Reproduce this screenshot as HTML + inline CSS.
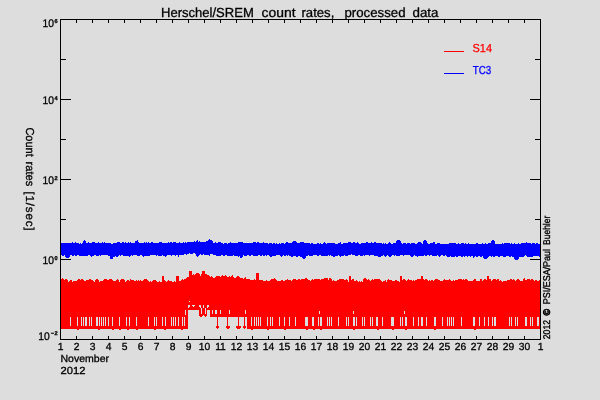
<!DOCTYPE html>
<html><head><meta charset="utf-8"><title>Herschel/SREM count rates</title>
<style>
html,body{margin:0;padding:0;background:#dddddd;}
body{width:600px;height:400px;overflow:hidden;font-family:"Liberation Sans",sans-serif;}
svg{display:block;font-family:"Liberation Sans",sans-serif;}
</style></head><body>
<svg width="600" height="400" viewBox="0 0 600 400">
<rect width="600" height="400" fill="#dddddd"/>
<g shape-rendering="crispEdges">
<path fill="#000" d="M60 19h481v1h-481zM60 339h481v1h-481zM60 19h1v321h-1zM540 19h1v321h-1zM76 19h1v4h-1zM76 336h1v4h-1zM92 19h1v4h-1zM92 336h1v4h-1zM108 19h1v4h-1zM108 336h1v4h-1zM124 19h1v4h-1zM124 336h1v4h-1zM140 19h1v4h-1zM140 336h1v4h-1zM156 19h1v4h-1zM156 336h1v4h-1zM172 19h1v4h-1zM172 336h1v4h-1zM188 19h1v4h-1zM188 336h1v4h-1zM204 19h1v4h-1zM204 336h1v4h-1zM220 19h1v4h-1zM220 336h1v4h-1zM236 19h1v4h-1zM236 336h1v4h-1zM252 19h1v4h-1zM252 336h1v4h-1zM268 19h1v4h-1zM268 336h1v4h-1zM284 19h1v4h-1zM284 336h1v4h-1zM300 19h1v4h-1zM300 336h1v4h-1zM316 19h1v4h-1zM316 336h1v4h-1zM332 19h1v4h-1zM332 336h1v4h-1zM348 19h1v4h-1zM348 336h1v4h-1zM364 19h1v4h-1zM364 336h1v4h-1zM380 19h1v4h-1zM380 336h1v4h-1zM396 19h1v4h-1zM396 336h1v4h-1zM412 19h1v4h-1zM412 336h1v4h-1zM428 19h1v4h-1zM428 336h1v4h-1zM444 19h1v4h-1zM444 336h1v4h-1zM460 19h1v4h-1zM460 336h1v4h-1zM476 19h1v4h-1zM476 336h1v4h-1zM492 19h1v4h-1zM492 336h1v4h-1zM508 19h1v4h-1zM508 336h1v4h-1zM524 19h1v4h-1zM524 336h1v4h-1zM60 59h6v1h-6zM535 59h6v1h-6zM60 99h11v1h-11zM530 99h11v1h-11zM60 139h6v1h-6zM535 139h6v1h-6zM60 179h11v1h-11zM530 179h11v1h-11zM60 219h6v1h-6zM535 219h6v1h-6zM60 259h11v1h-11zM530 259h11v1h-11zM60 299h6v1h-6zM535 299h6v1h-6z"/>
<path fill="#0000ff" d="M61 243h1v12h-1zM62 243h2v13h-2zM64 243h1v12h-1zM65 243h1v14h-1zM66 243h3v15h-3zM69 243h1v14h-1zM70 243h2v12h-2zM72 242h1v14h-1zM73 243h1v13h-1zM74 243h1v12h-1zM75 242h1v14h-1zM76 243h1v13h-1zM77 243h2v12h-2zM79 244h1v12h-1zM80 243h1v13h-1zM81 244h1v12h-1zM82 243h1v13h-1zM83 241h1v15h-1zM84 240h1v16h-1zM85 241h1v15h-1zM86 243h2v13h-2zM88 242h1v13h-1zM89 243h1v12h-1zM90 243h1v13h-1zM91 243h1v14h-1zM92 242h2v14h-2zM94 242h1v13h-1zM95 243h1v12h-1zM96 243h2v13h-2zM98 242h1v14h-1zM99 243h1v12h-1zM100 243h1v13h-1zM101 243h1v12h-1zM102 242h1v13h-1zM103 243h1v12h-1zM104 242h1v13h-1zM105 243h3v12h-3zM108 243h2v13h-2zM110 243h1v16h-1zM111 244h2v15h-2zM113 243h2v14h-2zM115 243h1v13h-1zM116 243h1v14h-1zM117 242h1v15h-1zM118 242h1v14h-1zM119 242h1v13h-1zM120 243h1v13h-1zM121 243h1v12h-1zM122 242h1v13h-1zM123 242h1v14h-1zM124 243h1v13h-1zM125 242h1v14h-1zM126 243h2v13h-2zM128 242h1v14h-1zM129 243h1v14h-1zM130 242h1v14h-1zM131 243h1v12h-1zM132 243h1v13h-1zM133 243h2v12h-2zM135 241h2v14h-2zM137 240h1v16h-1zM138 242h1v14h-1zM139 243h1v13h-1zM140 243h2v12h-2zM142 243h1v13h-1zM143 243h1v14h-1zM144 242h1v14h-1zM145 243h1v13h-1zM146 242h1v14h-1zM147 243h1v13h-1zM148 242h1v14h-1zM149 243h1v13h-1zM150 243h1v12h-1zM151 242h2v13h-2zM153 243h3v12h-3zM156 243h1v13h-1zM157 243h1v12h-1zM158 243h1v13h-1zM159 242h3v14h-3zM162 243h1v12h-1zM163 243h2v13h-2zM165 243h1v14h-1zM166 243h1v13h-1zM167 243h1v12h-1zM168 242h1v13h-1zM169 243h1v12h-1zM170 242h1v13h-1zM171 242h1v14h-1zM172 243h1v12h-1zM173 242h2v13h-2zM175 242h1v14h-1zM176 243h2v12h-2zM178 243h1v14h-1zM179 242h1v13h-1zM180 243h3v12h-3zM183 242h1v13h-1zM184 243h1v11h-1zM185 242h1v12h-1zM186 243h1v12h-1zM187 242h2v12h-2zM189 242h1v11h-1zM190 242h3v12h-3zM193 242h1v11h-1zM194 241h1v12h-1zM195 242h1v12h-1zM196 241h1v15h-1zM197 240h1v17h-1zM198 242h1v14h-1zM199 241h1v14h-1zM200 242h1v12h-1zM201 242h2v13h-2zM203 242h1v12h-1zM204 242h2v13h-2zM206 241h2v14h-2zM208 240h1v15h-1zM209 239h1v17h-1zM210 240h2v14h-2zM212 241h1v13h-1zM213 243h2v12h-2zM215 242h1v13h-1zM216 243h2v13h-2zM218 242h3v14h-3zM221 243h2v12h-2zM223 244h1v12h-1zM224 243h1v13h-1zM225 243h2v12h-2zM227 244h1v12h-1zM228 243h2v13h-2zM230 242h1v14h-1zM231 243h2v13h-2zM233 243h1v12h-1zM234 243h4v13h-4zM238 242h1v15h-1zM239 242h1v14h-1zM240 242h2v16h-2zM242 242h1v15h-1zM243 243h1v12h-1zM244 243h3v13h-3zM247 243h2v12h-2zM249 243h2v13h-2zM251 243h2v12h-2zM253 242h3v14h-3zM256 243h1v13h-1zM257 242h1v14h-1zM258 242h1v13h-1zM259 243h1v12h-1zM260 243h2v13h-2zM262 243h1v12h-1zM263 242h1v14h-1zM264 243h1v13h-1zM265 243h1v12h-1zM266 243h1v13h-1zM267 243h1v12h-1zM268 244h1v11h-1zM269 243h1v13h-1zM270 243h2v14h-2zM272 244h1v12h-1zM273 243h2v13h-2zM275 244h1v12h-1zM276 243h1v12h-1zM277 244h2v11h-2zM279 243h1v12h-1zM280 244h1v12h-1zM281 243h1v14h-1zM282 243h1v13h-1zM283 243h1v12h-1zM284 244h1v12h-1zM285 243h1v13h-1zM286 242h1v13h-1zM287 242h1v14h-1zM288 243h1v12h-1zM289 243h2v13h-2zM291 243h1v14h-1zM292 242h1v15h-1zM293 241h3v15h-3zM296 242h1v15h-1zM297 243h1v14h-1zM298 243h2v13h-2zM300 242h2v15h-2zM302 242h1v16h-1zM303 242h1v17h-1zM304 243h1v16h-1zM305 243h1v15h-1zM306 243h2v13h-2zM308 243h1v12h-1zM309 243h1v13h-1zM310 244h1v12h-1zM311 243h2v13h-2zM313 244h4v11h-4zM317 243h2v13h-2zM319 244h1v11h-1zM320 243h1v12h-1zM321 244h2v12h-2zM323 243h1v13h-1zM324 242h1v14h-1zM325 243h1v13h-1zM326 244h1v12h-1zM327 243h1v13h-1zM328 243h1v12h-1zM329 243h1v13h-1zM330 243h1v12h-1zM331 243h2v13h-2zM333 243h2v14h-2zM335 244h3v12h-3zM338 243h1v12h-1zM339 243h1v13h-1zM340 242h1v15h-1zM341 244h2v12h-2zM343 243h1v13h-1zM344 243h1v12h-1zM345 243h3v13h-3zM348 242h3v13h-3zM351 243h1v11h-1zM352 243h1v12h-1zM353 242h2v13h-2zM355 243h2v13h-2zM357 242h1v14h-1zM358 243h1v12h-1zM359 244h1v11h-1zM360 244h1v12h-1zM361 243h2v13h-2zM363 243h1v12h-1zM364 243h1v13h-1zM365 243h1v12h-1zM366 242h2v13h-2zM368 243h1v12h-1zM369 243h1v13h-1zM370 243h1v12h-1zM371 242h1v13h-1zM372 243h2v12h-2zM374 242h2v14h-2zM376 243h2v13h-2zM378 243h3v14h-3zM381 243h1v13h-1zM382 244h1v12h-1zM383 243h1v12h-1zM384 244h1v12h-1zM385 243h1v14h-1zM386 244h1v12h-1zM387 244h1v11h-1zM388 243h1v13h-1zM389 242h1v15h-1zM390 243h1v14h-1zM391 244h1v12h-1zM392 244h1v11h-1zM393 243h1v12h-1zM394 243h1v13h-1zM395 243h1v12h-1zM396 241h1v15h-1zM397 240h3v16h-3zM400 241h1v14h-1zM401 243h1v12h-1zM402 244h1v11h-1zM403 243h1v13h-1zM404 243h2v12h-2zM406 244h1v11h-1zM407 243h3v12h-3zM410 244h1v12h-1zM411 243h2v14h-2zM413 243h1v13h-1zM414 243h1v12h-1zM415 244h2v12h-2zM417 243h1v14h-1zM418 242h3v14h-3zM421 243h1v13h-1zM422 244h1v12h-1zM423 241h1v15h-1zM424 240h1v15h-1zM425 240h1v16h-1zM426 241h1v15h-1zM427 243h1v12h-1zM428 244h1v11h-1zM429 244h1v12h-1zM430 243h2v12h-2zM432 243h1v13h-1zM433 242h2v14h-2zM435 244h2v12h-2zM437 243h1v12h-1zM438 243h1v13h-1zM439 243h1v14h-1zM440 244h1v12h-1zM441 244h2v11h-2zM443 244h2v12h-2zM445 244h1v11h-1zM446 244h1v12h-1zM447 244h2v13h-2zM449 243h1v14h-1zM450 243h1v13h-1zM451 243h4v14h-4zM455 243h1v13h-1zM456 244h2v13h-2zM458 243h1v13h-1zM459 244h2v12h-2zM461 243h2v14h-2zM463 243h1v13h-1zM464 244h1v13h-1zM465 243h1v13h-1zM466 244h1v12h-1zM467 244h1v13h-1zM468 243h1v13h-1zM469 244h1v12h-1zM470 244h1v13h-1zM471 244h2v12h-2zM473 244h1v14h-1zM474 244h1v13h-1zM475 244h1v12h-1zM476 243h2v14h-2zM478 244h2v12h-2zM480 244h2v13h-2zM482 243h1v13h-1zM483 244h1v14h-1zM484 244h1v15h-1zM485 243h1v16h-1zM486 244h1v15h-1zM487 244h1v14h-1zM488 243h1v14h-1zM489 243h2v13h-2zM491 241h1v16h-1zM492 240h1v16h-1zM493 240h1v17h-1zM494 241h1v16h-1zM495 244h3v12h-3zM498 244h2v13h-2zM500 244h2v12h-2zM502 243h1v13h-1zM503 244h1v13h-1zM504 243h2v14h-2zM506 243h3v13h-3zM509 243h1v14h-1zM510 244h1v13h-1zM511 243h1v13h-1zM512 244h2v13h-2zM514 243h1v16h-1zM515 244h3v16h-3zM518 243h1v16h-1zM519 244h2v13h-2zM521 243h3v14h-3zM524 243h1v13h-1zM525 243h1v12h-1zM526 242h1v14h-1zM527 243h4v14h-4zM531 244h1v13h-1zM532 243h1v14h-1zM533 243h2v13h-2zM535 244h1v12h-1zM536 243h2v13h-2zM538 244h1v12h-1zM539 244h1v13h-1z"/>
<path fill="#ff0000" d="M61 279h1v50h-1zM62 278h1v51h-1zM63 279h1v50h-1zM64 280h1v49h-1zM65 279h2v50h-2zM67 280h1v49h-1zM68 282h1v47h-1zM69 281h1v48h-1zM70 280h2v49h-2zM72 282h1v47h-1zM73 281h4v48h-4zM77 280h1v49h-1zM78 279h2v50h-2zM80 280h1v49h-1zM81 279h2v50h-2zM83 280h1v49h-1zM84 281h2v48h-2zM86 280h3v49h-3zM89 279h2v50h-2zM91 280h2v49h-2zM93 281h1v48h-1zM94 282h1v47h-1zM95 280h1v49h-1zM96 279h2v50h-2zM98 280h1v49h-1zM99 282h1v47h-1zM100 281h3v48h-3zM103 280h1v49h-1zM104 279h3v50h-3zM107 280h2v49h-2zM109 279h3v50h-3zM112 280h1v49h-1zM113 281h3v48h-3zM116 280h1v49h-1zM117 279h1v50h-1zM118 280h1v49h-1zM119 282h1v47h-1zM120 280h1v49h-1zM121 279h3v50h-3zM124 280h1v49h-1zM125 282h1v47h-1zM126 281h1v48h-1zM127 280h2v49h-2zM129 281h1v48h-1zM130 279h1v50h-1zM131 280h3v49h-3zM134 281h2v48h-2zM136 280h1v49h-1zM137 281h1v48h-1zM138 280h1v49h-1zM139 281h1v48h-1zM140 280h1v49h-1zM141 281h2v48h-2zM143 280h1v49h-1zM144 279h3v50h-3zM147 280h1v49h-1zM148 281h1v48h-1zM149 282h1v47h-1zM150 281h1v48h-1zM151 282h1v47h-1zM152 281h1v48h-1zM153 280h3v49h-3zM156 281h1v48h-1zM157 282h2v47h-2zM159 281h1v48h-1zM160 282h2v47h-2zM162 276h2v53h-2zM164 280h1v49h-1zM165 281h1v48h-1zM166 282h1v47h-1zM167 281h1v48h-1zM168 280h1v49h-1zM169 281h3v48h-3zM172 282h2v47h-2zM174 281h1v48h-1zM175 282h1v47h-1zM176 276h3v53h-3zM179 281h2v48h-2zM181 280h1v49h-1zM182 279h1v50h-1zM183 280h1v49h-1zM184 279h2v50h-2zM186 278h1v51h-1zM187 277h1v52h-1zM188 277h1v33h-1zM189 271h3v39h-3zM192 275h1v35h-1zM193 274h1v36h-1zM194 275h1v35h-1zM195 274h1v36h-1zM196 273h3v37h-3zM199 274h1v41h-1zM200 276h1v39h-1zM201 274h1v41h-1zM202 271h3v44h-3zM205 274h2v41h-2zM207 275h2v35h-2zM209 276h1v34h-1zM210 277h1v40h-1zM211 276h1v41h-1zM212 277h1v40h-1zM213 278h2v39h-2zM215 277h1v40h-1zM216 276h1v41h-1zM217 276h1v51h-1zM218 276h2v41h-2zM220 277h1v40h-1zM221 276h1v41h-1zM222 275h1v42h-1zM223 276h2v41h-2zM225 275h1v42h-1zM226 276h1v41h-1zM227 277h1v50h-1zM228 277h1v40h-1zM229 276h1v41h-1zM230 277h1v40h-1zM231 276h1v41h-1zM232 275h1v42h-1zM233 277h1v40h-1zM234 278h2v39h-2zM236 277h1v40h-1zM237 276h1v41h-1zM238 276h1v51h-1zM239 277h1v40h-1zM240 278h3v39h-3zM243 279h1v38h-1zM244 278h1v49h-1zM245 277h1v40h-1zM246 279h1v38h-1zM247 279h3v50h-3zM250 280h4v49h-4zM254 279h1v50h-1zM255 280h1v49h-1zM256 273h3v56h-3zM259 280h4v49h-4zM263 281h3v48h-3zM266 280h1v49h-1zM267 281h3v48h-3zM270 280h1v49h-1zM271 279h3v50h-3zM274 278h1v51h-1zM275 279h1v50h-1zM276 280h1v49h-1zM277 281h4v48h-4zM281 280h2v49h-2zM283 281h2v48h-2zM285 280h2v49h-2zM287 279h1v50h-1zM288 280h3v49h-3zM291 281h1v48h-1zM292 280h1v49h-1zM293 279h3v50h-3zM296 280h2v49h-2zM298 279h2v50h-2zM300 280h1v49h-1zM301 279h4v50h-4zM305 278h2v51h-2zM307 279h1v50h-1zM308 280h2v49h-2zM310 281h1v48h-1zM311 280h1v49h-1zM312 279h1v50h-1zM313 280h1v49h-1zM314 279h6v50h-6zM320 280h1v49h-1zM321 279h3v50h-3zM324 278h4v51h-4zM328 280h1v49h-1zM329 278h2v51h-2zM331 279h1v50h-1zM332 281h1v48h-1zM333 280h1v49h-1zM334 281h3v48h-3zM337 280h2v49h-2zM339 279h5v50h-5zM344 280h2v49h-2zM346 279h1v50h-1zM347 280h1v49h-1zM348 282h1v47h-1zM349 276h2v53h-2zM351 280h1v49h-1zM352 279h2v50h-2zM354 281h2v48h-2zM356 280h1v49h-1zM357 281h1v48h-1zM358 282h1v47h-1zM359 281h1v48h-1zM360 282h1v47h-1zM361 281h1v48h-1zM362 282h1v47h-1zM363 279h1v50h-1zM364 278h2v51h-2zM366 279h1v50h-1zM367 280h1v49h-1zM368 279h1v50h-1zM369 280h1v49h-1zM370 281h1v48h-1zM371 280h1v49h-1zM372 279h1v50h-1zM373 280h1v49h-1zM374 279h6v50h-6zM380 280h1v49h-1zM381 281h1v48h-1zM382 282h1v47h-1zM383 281h2v48h-2zM385 280h1v49h-1zM386 282h1v47h-1zM387 280h1v49h-1zM388 279h1v50h-1zM389 280h3v49h-3zM392 281h3v48h-3zM395 280h2v49h-2zM397 281h2v48h-2zM399 282h1v47h-1zM400 276h2v53h-2zM402 280h1v49h-1zM403 279h2v50h-2zM405 280h1v49h-1zM406 281h1v48h-1zM407 280h1v49h-1zM408 279h1v50h-1zM409 280h3v49h-3zM412 281h1v48h-1zM413 280h1v49h-1zM414 281h1v48h-1zM415 280h2v49h-2zM417 279h4v50h-4zM421 276h2v53h-2zM423 279h1v50h-1zM424 280h1v49h-1zM425 279h2v50h-2zM427 280h1v49h-1zM428 281h1v48h-1zM429 280h1v49h-1zM430 281h1v48h-1zM431 280h2v49h-2zM433 281h1v48h-1zM434 280h1v49h-1zM435 279h3v50h-3zM438 280h2v49h-2zM440 281h3v48h-3zM443 280h1v49h-1zM444 279h1v50h-1zM445 280h4v49h-4zM449 279h1v50h-1zM450 280h1v49h-1zM451 281h2v48h-2zM453 280h1v49h-1zM454 281h1v48h-1zM455 280h3v49h-3zM458 279h4v50h-4zM462 280h1v49h-1zM463 279h1v50h-1zM464 280h1v49h-1zM465 279h2v50h-2zM467 280h1v49h-1zM468 281h5v48h-5zM473 280h1v49h-1zM474 279h2v50h-2zM476 281h4v48h-4zM480 279h2v50h-2zM482 281h1v48h-1zM483 280h1v49h-1zM484 279h2v50h-2zM486 280h1v49h-1zM487 276h2v53h-2zM489 279h2v50h-2zM491 281h1v48h-1zM492 280h1v49h-1zM493 279h3v50h-3zM496 280h1v49h-1zM497 279h2v50h-2zM499 281h1v48h-1zM500 280h1v49h-1zM501 281h1v48h-1zM502 282h1v47h-1zM503 281h4v48h-4zM507 280h3v49h-3zM510 279h2v50h-2zM512 280h1v49h-1zM513 279h1v50h-1zM514 280h1v49h-1zM515 281h1v48h-1zM516 280h1v49h-1zM517 279h2v50h-2zM519 280h1v49h-1zM520 281h3v48h-3zM523 279h1v50h-1zM524 278h1v51h-1zM525 280h2v49h-2zM527 279h3v50h-3zM530 280h1v49h-1zM531 279h2v50h-2zM533 280h1v49h-1zM534 281h1v48h-1zM535 280h2v49h-2zM537 281h2v48h-2zM539 280h1v49h-1z"/>
<path fill="#ff0000" d="M216 326h3v2h-1v1h-1v-1h-1z"/><path fill="#ff0000" d="M226 326h4v2h-1v1h-2v-1h-1z"/><path fill="#ff0000" d="M236 326h5v2h-1v1h-3v-1h-1z"/><path fill="#ff0000" d="M243 326h3v2h-1v1h-1v-1h-1z"/><path fill="#ff0000" d="M185 326h3v2h-1v1h-1v-1h-1z"/><path fill="#ff0000" d="M199 314h4v2h-1v1h-2v-1h-1z"/><path fill="#ff0000" d="M204 314h3v2h-1v1h-1v-1h-1z"/><path fill="#ff0000" d="M210 314h5v2h-1v1h-3v-1h-1z"/>
<path fill="#dddddd" d="M70 317h1v9h-1zM77 317h1v9h-1zM81 317h1v9h-1zM83 317h1v9h-1zM85 317h1v9h-1zM86 317h1v9h-1zM89 317h1v9h-1zM91 317h1v9h-1zM96 317h1v9h-1zM97 317h1v9h-1zM99 317h1v9h-1zM101 317h1v9h-1zM103 317h1v9h-1zM105 317h1v9h-1zM108 317h1v9h-1zM112 317h1v9h-1zM119 317h1v9h-1zM126 317h1v9h-1zM129 317h1v9h-1zM136 317h1v9h-1zM148 317h1v9h-1zM154 317h1v9h-1zM156 317h1v9h-1zM162 317h1v9h-1zM165 317h1v9h-1zM171 317h1v9h-1zM173 317h1v9h-1zM175 317h1v9h-1zM178 317h1v9h-1zM182 317h1v9h-1zM184 317h1v9h-1zM251 317h1v9h-1zM254 317h1v9h-1zM256 317h1v9h-1zM258 317h1v9h-1zM260 317h1v9h-1zM267 317h1v9h-1zM270 317h1v9h-1zM272 317h1v9h-1zM279 317h1v9h-1zM284 317h1v9h-1zM289 317h1v9h-1zM295 317h1v9h-1zM305 317h1v9h-1zM306 317h1v9h-1zM307 317h1v9h-1zM312 317h1v9h-1zM313 317h1v9h-1zM318 317h1v9h-1zM320 317h1v9h-1zM321 317h1v9h-1zM327 317h1v9h-1zM329 317h1v9h-1zM331 317h1v9h-1zM338 317h1v9h-1zM346 317h1v9h-1zM348 317h1v9h-1zM353 317h1v9h-1zM354 317h1v9h-1zM356 317h1v9h-1zM362 317h1v9h-1zM364 317h1v9h-1zM370 317h1v9h-1zM372 317h1v9h-1zM376 317h1v9h-1zM377 317h1v9h-1zM382 317h1v9h-1zM391 317h1v9h-1zM392 317h1v9h-1zM393 317h1v9h-1zM400 317h1v9h-1zM402 317h1v9h-1zM405 317h1v9h-1zM406 317h1v9h-1zM413 317h1v9h-1zM418 317h1v9h-1zM421 317h1v9h-1zM422 317h1v9h-1zM426 317h1v9h-1zM434 317h1v9h-1zM435 317h1v9h-1zM442 317h1v9h-1zM447 317h1v9h-1zM449 317h1v9h-1zM451 317h1v9h-1zM453 317h1v9h-1zM461 317h1v9h-1zM473 317h1v9h-1zM474 317h1v9h-1zM479 317h1v9h-1zM484 317h1v9h-1zM488 317h1v9h-1zM492 317h1v9h-1zM494 317h1v9h-1zM495 317h1v9h-1zM509 317h1v9h-1zM511 317h1v9h-1zM515 317h1v9h-1zM517 317h1v9h-1zM525 317h1v9h-1zM526 317h1v9h-1zM530 317h1v9h-1zM532 317h1v9h-1zM537 317h1v9h-1zM538 317h1v9h-1zM212 310h1v4h-1zM215 310h1v4h-1zM216 310h1v4h-1zM220 310h1v4h-1zM229 310h1v4h-1zM245 310h1v4h-1zM185 310h1v5h-1zM201 308h1v6h-1zM205 308h1v6h-1zM319 311h1v3h-1zM353 311h1v3h-1zM404 311h1v3h-1zM188 305h1v3h-1zM189 305h1v2h-1zM192 305h1v1h-1zM193 305h1v2h-1zM194 305h1v1h-1zM199 305h1v2h-1zM200 305h1v3h-1zM203 305h1v3h-1zM207 305h1v3h-1zM208 305h1v2h-1zM189 301h1v1h-1z"/><path fill="#ff0000" d="M77 329h2v1h-2zM98 329h2v1h-2zM112 329h2v1h-2zM119 329h2v1h-2zM127 329h2v1h-2zM136 329h2v1h-2zM154 329h2v1h-2zM164 329h2v1h-2zM181 329h2v1h-2zM251 329h2v1h-2zM267 329h2v1h-2zM284 329h2v1h-2zM306 329h2v1h-2zM313 329h2v1h-2zM320 329h2v1h-2zM353 329h2v1h-2zM377 329h2v1h-2zM392 329h2v1h-2zM405 329h2v1h-2zM434 329h2v1h-2zM474 329h2v1h-2z"/>
<rect x="444" y="51" width="20" height="1" fill="#ff0000"/><rect x="444" y="73" width="20" height="1" fill="#0000ff"/>
</g>
<g style="will-change:transform" text-rendering="geometricPrecision" stroke-width="0.3">
<text x="161.0" y="17" font-size="13.1" textLength="92.8" lengthAdjust="spacingAndGlyphs" fill="#000" stroke="#000">Herschel/SREM</text><text x="261.5" y="17" font-size="13.1" textLength="34" lengthAdjust="spacingAndGlyphs" fill="#000" stroke="#000">count</text><text x="301.5" y="17" font-size="13.1" textLength="32.8" lengthAdjust="spacingAndGlyphs" fill="#000" stroke="#000">rates,</text><text x="344.5" y="17" font-size="13.1" textLength="61" lengthAdjust="spacingAndGlyphs" fill="#000" stroke="#000">processed</text><text x="412.5" y="17" font-size="13.1" textLength="26" lengthAdjust="spacingAndGlyphs" fill="#000" stroke="#000">data</text><text x="60.5" y="350.2" font-size="10.3" text-anchor="middle" fill="#000" stroke="#000">1</text><text x="76.5" y="350.2" font-size="10.3" text-anchor="middle" fill="#000" stroke="#000">2</text><text x="92.5" y="350.2" font-size="10.3" text-anchor="middle" fill="#000" stroke="#000">3</text><text x="108.5" y="350.2" font-size="10.3" text-anchor="middle" fill="#000" stroke="#000">4</text><text x="124.5" y="350.2" font-size="10.3" text-anchor="middle" fill="#000" stroke="#000">5</text><text x="140.5" y="350.2" font-size="10.3" text-anchor="middle" fill="#000" stroke="#000">6</text><text x="156.5" y="350.2" font-size="10.3" text-anchor="middle" fill="#000" stroke="#000">7</text><text x="172.5" y="350.2" font-size="10.3" text-anchor="middle" fill="#000" stroke="#000">8</text><text x="188.5" y="350.2" font-size="10.3" text-anchor="middle" fill="#000" stroke="#000">9</text><text x="204.5" y="350.2" font-size="10.3" text-anchor="middle" fill="#000" stroke="#000">10</text><text x="220.5" y="350.2" font-size="10.3" text-anchor="middle" fill="#000" stroke="#000">11</text><text x="236.5" y="350.2" font-size="10.3" text-anchor="middle" fill="#000" stroke="#000">12</text><text x="252.5" y="350.2" font-size="10.3" text-anchor="middle" fill="#000" stroke="#000">13</text><text x="268.5" y="350.2" font-size="10.3" text-anchor="middle" fill="#000" stroke="#000">14</text><text x="284.5" y="350.2" font-size="10.3" text-anchor="middle" fill="#000" stroke="#000">15</text><text x="300.5" y="350.2" font-size="10.3" text-anchor="middle" fill="#000" stroke="#000">16</text><text x="316.5" y="350.2" font-size="10.3" text-anchor="middle" fill="#000" stroke="#000">17</text><text x="332.5" y="350.2" font-size="10.3" text-anchor="middle" fill="#000" stroke="#000">18</text><text x="348.5" y="350.2" font-size="10.3" text-anchor="middle" fill="#000" stroke="#000">19</text><text x="364.5" y="350.2" font-size="10.3" text-anchor="middle" fill="#000" stroke="#000">20</text><text x="380.5" y="350.2" font-size="10.3" text-anchor="middle" fill="#000" stroke="#000">21</text><text x="396.5" y="350.2" font-size="10.3" text-anchor="middle" fill="#000" stroke="#000">22</text><text x="412.5" y="350.2" font-size="10.3" text-anchor="middle" fill="#000" stroke="#000">23</text><text x="428.5" y="350.2" font-size="10.3" text-anchor="middle" fill="#000" stroke="#000">24</text><text x="444.5" y="350.2" font-size="10.3" text-anchor="middle" fill="#000" stroke="#000">25</text><text x="460.5" y="350.2" font-size="10.3" text-anchor="middle" fill="#000" stroke="#000">26</text><text x="476.5" y="350.2" font-size="10.3" text-anchor="middle" fill="#000" stroke="#000">27</text><text x="492.5" y="350.2" font-size="10.3" text-anchor="middle" fill="#000" stroke="#000">28</text><text x="508.5" y="350.2" font-size="10.3" text-anchor="middle" fill="#000" stroke="#000">29</text><text x="524.5" y="350.2" font-size="10.3" text-anchor="middle" fill="#000" stroke="#000">30</text><text x="540.5" y="350.2" font-size="10.3" text-anchor="middle" fill="#000" stroke="#000">1</text><text x="60.5" y="362.2" font-size="10.3" textLength="48.5" lengthAdjust="spacingAndGlyphs" fill="#000" stroke="#000">November</text><text x="60.5" y="374.2" font-size="10.3" textLength="25" lengthAdjust="spacingAndGlyphs" fill="#000" stroke="#000">2012</text><text x="42.5" y="27" font-size="11" textLength="11.5" lengthAdjust="spacingAndGlyphs" fill="#000" stroke="#000">10</text><text x="54.6" y="22.6" font-size="5.6" fill="#000" stroke="#000" font-weight="bold">6</text><text x="42.5" y="104" font-size="11" textLength="11.5" lengthAdjust="spacingAndGlyphs" fill="#000" stroke="#000">10</text><text x="54.6" y="99.6" font-size="5.6" fill="#000" stroke="#000" font-weight="bold">4</text><text x="42.5" y="184" font-size="11" textLength="11.5" lengthAdjust="spacingAndGlyphs" fill="#000" stroke="#000">10</text><text x="54.6" y="179.6" font-size="5.6" fill="#000" stroke="#000" font-weight="bold">2</text><text x="42.5" y="264" font-size="11" textLength="11.5" lengthAdjust="spacingAndGlyphs" fill="#000" stroke="#000">10</text><text x="54.6" y="259.6" font-size="5.6" fill="#000" stroke="#000" font-weight="bold">0</text><text x="38.3" y="340.2" font-size="11" textLength="11.5" lengthAdjust="spacingAndGlyphs" fill="#000" stroke="#000">10</text><text x="50.8" y="335.4" font-size="6.5" textLength="3.4" lengthAdjust="spacingAndGlyphs" fill="#000" stroke="#000" font-weight="bold">-</text><text x="54.6" y="335.2" font-size="5.6" fill="#000" stroke="#000" font-weight="bold">2</text><text x="472.5" y="52" font-size="11.6" textLength="19.5" lengthAdjust="spacingAndGlyphs" fill="#ff0000" stroke="#ff0000">S14</text><text x="472.7" y="74" font-size="11.6" textLength="18.5" lengthAdjust="spacingAndGlyphs" fill="#0000ff" stroke="#0000ff">TC3</text><text x="25.7" y="127.39999999999999" font-size="11.6" textLength="29.4" lengthAdjust="spacingAndGlyphs" transform="rotate(90 25.7 127.39999999999999)" fill="#000" stroke="#000">Count</text><text x="25.7" y="161.6" font-size="11.6" textLength="24.6" lengthAdjust="spacingAndGlyphs" transform="rotate(90 25.7 161.6)" fill="#000" stroke="#000">rates</text><text x="25.7" y="191.4" font-size="11.6" textLength="39.2" lengthAdjust="spacing" transform="rotate(90 25.7 191.4)" fill="#000" stroke="#000">[1/sec]</text><text x="550.3" y="339.2" font-size="9.8" textLength="19.3" lengthAdjust="spacingAndGlyphs" transform="rotate(-90 550.3 339.2)" fill="#000" stroke="#000" stroke-width="0.35">2012</text><text x="550.3" y="315.59999999999997" font-size="9.8" textLength="6.6" lengthAdjust="spacingAndGlyphs" transform="rotate(-90 550.3 315.59999999999997)" fill="#000" stroke="#000" font-weight="bold" stroke-width="0.6">©</text><text x="550.3" y="304.2" font-size="9.8" textLength="55.2" lengthAdjust="spacingAndGlyphs" transform="rotate(-90 550.3 304.2)" fill="#000" stroke="#000" stroke-width="0.35">PSI/ESA/Paul</text><text x="550.3" y="244.89999999999998" font-size="9.8" textLength="29.2" lengthAdjust="spacingAndGlyphs" transform="rotate(-90 550.3 244.89999999999998)" fill="#000" stroke="#000" stroke-width="0.35">Buehler</text>
</g>
</svg>
</body></html>
